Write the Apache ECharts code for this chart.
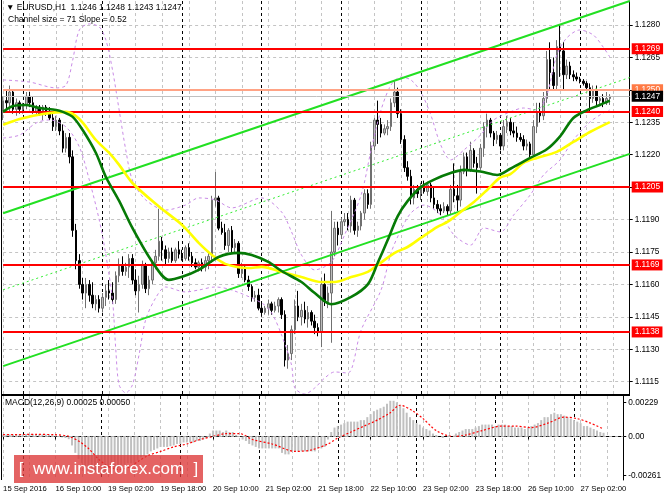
<!DOCTYPE html>
<html><head><meta charset="utf-8">
<script src="https://cdn.jsdelivr.net/npm/echarts@6/dist/echarts.min.js"></script>
<style>html,body{margin:0;padding:0;background:#fff}#c{width:664px;height:498px}</style>
</head><body><div id="c"></div>
<script>
// ---- time categories (hourly bars, weekend skipped) ----
const daySpans = [['15 Sep',18,23],['16 Sep',0,23],['19 Sep',0,23],['20 Sep',0,23],['21 Sep',0,23],['22 Sep',0,23],['23 Sep',0,23],['26 Sep',0,23],['27 Sep',0,15]];
const firstLabel = '15 Sep 2016';
const categories = [];
daySpans.forEach(function(d){ for (let h=d[1]; h<=d[2]; h++) categories.push(d[0]+' '+(h<10?'0':'')+h+':00'); });

// ---- candles ----
const opens = [1.1240,1.1245,1.1244,1.1249,1.1241,1.1244,1.1241,1.1243,1.1247,1.1244,
1.1240,1.1242,1.1239,1.1242,1.1239,1.1237,1.1233,1.1236,1.1231,1.1223,
1.1228,1.1219,1.1185,1.1171,1.1160,1.1156,1.1160,1.1155,1.1151,1.1153,
1.1149,1.1154,1.1157,1.1156,1.1153,1.1164,1.1169,1.1166,1.1168,1.1172,
1.1162,1.1157,1.1160,1.1169,1.1158,1.1162,1.1170,1.1173,1.1180,1.1176,
1.1172,1.1175,1.1171,1.1176,1.1174,1.1172,1.1177,1.1173,1.1170,1.1168,
1.1170,1.1168,1.1171,1.1173,1.1199,1.1200,1.1186,1.1184,1.1178,1.1185,
1.1177,1.1179,1.1165,1.1168,1.1162,1.1159,1.1154,1.1155,1.1149,1.1147,
1.1149,1.1151,1.1148,1.1150,1.1153,1.1146,1.1125,1.1128,1.1139,1.1150,
1.1145,1.1148,1.1144,1.1147,1.1143,1.1140,1.1138,1.1160,1.1152,1.1156,
1.1175,1.1186,1.1183,1.1189,1.1190,1.1187,1.1199,1.1185,1.1187,1.1193,
1.1202,1.1197,1.1224,1.1236,1.1234,1.1230,1.1232,1.1233,1.1244,1.1249,
1.1239,1.1227,1.1214,1.1210,1.1200,1.1204,1.1202,1.1205,1.1203,1.1206,
1.1200,1.1197,1.1195,1.1194,1.1196,1.1194,1.1204,1.1201,1.1199,1.1212,
1.1219,1.1213,1.1222,1.1216,1.1214,1.1223,1.1233,1.1236,1.1230,1.1227,
1.1229,1.1224,1.1233,1.1235,1.1231,1.1230,1.1228,1.1227,1.1224,1.1225,
1.1220,1.1233,1.1240,1.1238,1.1246,1.1264,1.1258,1.1252,1.1270,1.1268,
1.1257,1.1261,1.1257,1.1256,1.1255,1.1254,1.1253,1.1251,1.1246,1.1250,
1.1245,1.1246,1.1244,1.1246];
const highs = [1.1247,1.1250,1.1252,1.1250,1.1246,1.1245,1.1244,1.1249,1.1249,1.1247,
1.1243,1.1243,1.1243,1.1243,1.1242,1.1239,1.1238,1.1237,1.1234,1.1230,
1.1230,1.1222,1.1188,1.1174,1.1163,1.1163,1.1162,1.1161,1.1155,1.1155,
1.1156,1.1160,1.1162,1.1161,1.1166,1.1172,1.1173,1.1170,1.1174,1.1174,
1.1167,1.1164,1.1171,1.1170,1.1164,1.1171,1.1176,1.1195,1.1182,1.1178,
1.1177,1.1177,1.1177,1.1180,1.1176,1.1178,1.1179,1.1175,1.1172,1.1171,
1.1172,1.1173,1.1175,1.1201,1.1212,1.1201,1.1189,1.1188,1.1186,1.1187,
1.1181,1.1180,1.1170,1.1169,1.1164,1.1160,1.1157,1.1158,1.1151,1.1150,
1.1153,1.1152,1.1152,1.1154,1.1154,1.1148,1.1132,1.1141,1.1153,1.1157,
1.1151,1.1152,1.1150,1.1148,1.1146,1.1142,1.1163,1.1165,1.1159,1.1194,
1.1189,1.1189,1.1191,1.1193,1.1193,1.1201,1.1200,1.1189,1.1194,1.1204,
1.1204,1.1226,1.1237,1.1245,1.1237,1.1234,1.1236,1.1246,1.1254,1.1251,
1.1241,1.1229,1.1217,1.1213,1.1206,1.1206,1.1207,1.1208,1.1207,1.1207,
1.1205,1.1199,1.1197,1.1198,1.1197,1.1206,1.1216,1.1206,1.1215,1.1221,
1.1221,1.1226,1.1223,1.1219,1.1225,1.1235,1.1239,1.1237,1.1231,1.1231,
1.1230,1.1236,1.1238,1.1237,1.1235,1.1233,1.1230,1.1229,1.1227,1.1226,
1.1236,1.1244,1.1244,1.1249,1.1268,1.1272,1.1265,1.1273,1.1280,1.1272,
1.1264,1.1263,1.1259,1.1258,1.1256,1.1255,1.1254,1.1253,1.1252,1.1252,
1.1247,1.1248,1.1249,1.1248];
const lows = [1.1236,1.1241,1.1240,1.1239,1.1238,1.1239,1.1239,1.1241,1.1242,1.1239,
1.1238,1.1238,1.1236,1.1238,1.1236,1.1231,1.1231,1.1229,1.1221,1.1221,
1.1216,1.1182,1.1167,1.1158,1.1153,1.1149,1.1152,1.1149,1.1148,1.1147,
1.1147,1.1150,1.1153,1.1151,1.1151,1.1161,1.1164,1.1164,1.1163,1.1160,
1.1155,1.1147,1.1158,1.1156,1.1155,1.1160,1.1167,1.1171,1.1171,1.1169,
1.1170,1.1170,1.1170,1.1172,1.1171,1.1171,1.1171,1.1168,1.1167,1.1166,
1.1166,1.1166,1.1167,1.1170,1.1196,1.1185,1.1183,1.1176,1.1175,1.1175,
1.1175,1.1163,1.1163,1.1161,1.1157,1.1152,1.1152,1.1148,1.1145,1.1146,
1.1146,1.1146,1.1147,1.1147,1.1144,1.1122,1.1121,1.1125,1.1137,1.1143,
1.1141,1.1142,1.1140,1.1141,1.1137,1.1136,1.1131,1.1150,1.1149,1.1133,
1.1173,1.1178,1.1181,1.1187,1.1185,1.1184,1.1183,1.1182,1.1185,1.1190,
1.1195,1.1195,1.1222,1.1225,1.1228,1.1229,1.1229,1.1231,1.1242,1.1237,
1.1225,1.1212,1.1208,1.1197,1.1197,1.1200,1.1199,1.1202,1.1201,1.1198,
1.1195,1.1193,1.1192,1.1193,1.1192,1.1192,1.1198,1.1194,1.1196,1.1211,
1.1210,1.1212,1.1214,1.1202,1.1213,1.1219,1.1228,1.1228,1.1224,1.1225,
1.1222,1.1222,1.1230,1.1229,1.1228,1.1226,1.1226,1.1222,1.1222,1.1218,
1.1219,1.1230,1.1235,1.1236,1.1244,1.1250,1.1250,1.1250,1.1256,1.1250,
1.1255,1.1255,1.1254,1.1254,1.1253,1.1252,1.1250,1.1240,1.1244,1.1243,
1.1243,1.1242,1.1243,1.1243];
const closes = [1.1245,1.1244,1.1249,1.1241,1.1244,1.1241,1.1243,1.1247,1.1244,1.1240,
1.1242,1.1239,1.1242,1.1239,1.1237,1.1233,1.1236,1.1231,1.1223,1.1228,
1.1219,1.1185,1.1171,1.1160,1.1156,1.1160,1.1155,1.1151,1.1153,1.1149,
1.1154,1.1157,1.1156,1.1153,1.1164,1.1169,1.1166,1.1168,1.1172,1.1162,
1.1157,1.1160,1.1169,1.1158,1.1162,1.1170,1.1173,1.1180,1.1176,1.1172,
1.1175,1.1171,1.1176,1.1174,1.1172,1.1177,1.1173,1.1170,1.1168,1.1170,
1.1168,1.1171,1.1173,1.1199,1.1200,1.1186,1.1184,1.1178,1.1185,1.1177,
1.1179,1.1165,1.1168,1.1162,1.1159,1.1154,1.1155,1.1149,1.1147,1.1149,
1.1151,1.1148,1.1150,1.1153,1.1146,1.1125,1.1128,1.1139,1.1150,1.1145,
1.1148,1.1144,1.1147,1.1143,1.1140,1.1138,1.1160,1.1152,1.1156,1.1175,
1.1186,1.1183,1.1189,1.1190,1.1187,1.1199,1.1185,1.1187,1.1193,1.1202,
1.1197,1.1224,1.1236,1.1234,1.1230,1.1232,1.1233,1.1244,1.1249,1.1239,
1.1227,1.1214,1.1210,1.1200,1.1204,1.1202,1.1205,1.1203,1.1206,1.1200,
1.1197,1.1195,1.1194,1.1196,1.1194,1.1204,1.1201,1.1199,1.1212,1.1219,
1.1213,1.1222,1.1216,1.1214,1.1223,1.1233,1.1236,1.1230,1.1227,1.1229,
1.1224,1.1233,1.1235,1.1231,1.1230,1.1228,1.1227,1.1224,1.1225,1.1220,
1.1233,1.1240,1.1238,1.1246,1.1264,1.1258,1.1252,1.1270,1.1268,1.1257,
1.1261,1.1257,1.1256,1.1255,1.1254,1.1253,1.1251,1.1246,1.1250,1.1245,
1.1246,1.1244,1.1246,1.1247];

// ---- moving averages ----
const greenIdx = [0,3,7,11,16,18,21,24,28,31,35,39,45,50,54,59,65,71,75,80,84,90,94,99,105,110,113,116,119,122,126,130,135,139,144,149,153,159,164,168,172,176,180,183];
const greenVal = [1.12398,1.12425,1.12430,1.12416,1.12407,1.12398,1.12375,1.12314,1.12208,1.12097,1.11986,1.11861,1.11704,1.11621,1.11635,1.11667,1.11727,1.11746,1.11736,1.11704,1.11662,1.11611,1.11560,1.11508,1.11542,1.11600,1.11700,1.11805,1.11915,1.11985,1.12050,1.12085,1.12115,1.12130,1.12122,1.12106,1.12135,1.12185,1.12225,1.12285,1.12370,1.12405,1.12430,1.12450];
const yellowIdx = [0,5,12,19,23,28,32,35,39,47,54,59,63,67,74,78,84,90,96,100,105,110,113,118,122,126,131,134,138,142,146,150,153,157,161,167,172,177,183];
const yellowVal = [1.12338,1.12365,1.12388,1.12398,1.12365,1.12268,1.12208,1.12153,1.12069,1.11960,1.11875,1.11792,1.11736,1.11695,1.11676,1.11681,1.11658,1.11634,1.11611,1.11611,1.11634,1.11658,1.11690,1.11745,1.11773,1.11815,1.11866,1.11889,1.11935,1.11981,1.12037,1.12095,1.12110,1.12162,1.12185,1.12213,1.12259,1.12305,1.12351];
// ---- envelope bands (purple dashed) ----
const bandUpIdx = [0,8,16,19,21,23,26,29,31,33,35,37,39,43,49,55,59,64,69,78,84,87,90,94,99,103,108,111,114,117,120,123,126,129,132,135,139,144,148,153,157,161,164,167,170,174,178,181,183];
const bandUpVal = [1.12546,1.12536,1.12509,1.12522,1.12638,1.12777,1.12805,1.12791,1.12731,1.12592,1.12407,1.12222,1.12083,1.11991,1.11944,1.11967,1.12000,1.11991,1.11954,1.12000,1.11935,1.11843,1.11736,1.11667,1.11704,1.11829,1.12014,1.12222,1.12407,1.12522,1.12559,1.12546,1.12490,1.12384,1.12245,1.12176,1.12222,1.12291,1.12361,1.12398,1.12416,1.12407,1.12476,1.12661,1.12740,1.12777,1.12754,1.12698,1.12652];
const bandLoIdx = [0,5,10,14,19,23,26,29,31,33,34,35,37,39,41,43,46,49,55,59,64,69,78,81,84,87,88,91,94,97,100,104,108,114,117,120,123,127,132,136,141,145,150,154,159,163,168,172,177,181,183];
const bandLoVal = [1.12277,1.12291,1.12347,1.12361,1.12328,1.12236,1.12083,1.11898,1.11736,1.11528,1.11297,1.11135,1.11098,1.11135,1.11274,1.11436,1.11537,1.11588,1.11565,1.11574,1.11588,1.11574,1.11514,1.11468,1.11366,1.11227,1.11121,1.11093,1.11121,1.11167,1.11195,1.11190,1.11389,1.11574,1.11745,1.11852,1.11930,1.11967,1.11921,1.11829,1.11782,1.11861,1.11843,1.11921,1.12014,1.12106,1.12176,1.12268,1.12351,1.12393,1.12407];

// ---- regression channel (end points) ----
const channelIdx = [0, 189];
const channelUpper = [1.11929, 1.12911];
const channelMiddle = [1.11575, 1.12557];
const channelLower = [1.11222, 1.12204];

// ---- horizontal levels ----
const redLevels = [1.1269, 1.1240, 1.1205, 1.1169, 1.1138];
const salmonLevel = 1.1250;
const bidLevel = 1.1247;

// ---- price axis ticks ----
const priceTicks = [1.1115,1.1130,1.1145,1.1160,1.1175,1.1190,1.1205,1.1220,1.1235,1.1250,1.1265,1.1280];
const priceMin = 1.11093, priceMax = 1.12911;

// ---- MACD ----
const macdMain = [0.00012,0.00013,0.00014,0.00014,0.00015,0.00014,0.00014,0.00016,0.00017,0.00016,
0.00015,0.00014,0.00014,0.00013,0.00012,0.00008,0.00006,0.00002,-0.00006,-0.0001,
-0.00018,-0.0006,-0.0011,-0.0015,-0.0018,-0.002,-0.0022,-0.0023,-0.0024,-0.0025,
-0.0025,-0.0025,-0.0024,-0.0024,-0.0022,-0.0021,-0.002,-0.0019,-0.0018,-0.0018,
-0.0018,-0.0016,-0.0014,-0.0013,-0.0012,-0.001,-0.0009,-0.0008,-0.0007,-0.0007,
-0.0007,-0.00065,-0.0006,-0.0005,-0.0005,-0.0004,-0.0004,-0.0004,-0.0004,-0.0003,
-0.0003,-0.0002,-0.0001,0.0002,0.0004,0.0004,0.0004,0.0003,0.0004,0.0003,
0.0003,0.0001,0.0,-0.0002,-0.0003,-0.0005,-0.0006,-0.0007,-0.0008,-0.0008,
-0.0008,-0.0008,-0.0008,-0.0008,-0.0008,-0.0011,-0.0012,-0.0012,-0.001,-0.001,
-0.001,-0.001,-0.001,-0.001,-0.001,-0.001,-0.0008,-0.0008,-0.0007,-0.0002,
0.0003,0.0006,0.0007,0.0008,0.0009,0.001,0.001,0.001,0.001,0.0011,
0.0011,0.0013,0.0015,0.0017,0.0018,0.0019,0.002,0.0022,0.0024,0.0024,
0.0023,0.0021,0.0019,0.0016,0.0013,0.0011,0.0009,0.0008,0.0006,0.0005,
0.0004,0.0002,0.0001,0.0,-0.0001,0.0,0.0001,0.0,0.0002,0.0003,
0.0004,0.0005,0.0005,0.0005,0.0006,0.0007,0.0008,0.0008,0.0008,0.0008,
0.0007,0.0008,0.0008,0.0008,0.0007,0.0007,0.0006,0.0006,0.0006,0.0005,
0.0006,0.0007,0.0008,0.0009,0.0011,0.0013,0.0013,0.0015,0.0016,0.0015,
0.0015,0.0014,0.0013,0.0012,0.0011,0.001,0.0009,0.0007,0.0007,0.0006,
0.0005,0.0004,0.0003,0.00025];
const signalIdx = [0,10,16,20,23,26,29,32,35,38,41,44,48,52,56,60,64,68,72,76,82,89,94,99,102,106,110,114,118,121,125,128,132,137,141,146,152,156,161,166,171,175,179,183];
const signalVal = [0.00012,0.00014,0.00012,0.00002,-0.0003,-0.0008,-0.0015,-0.002,-0.0022,-0.0021,-0.0017,-0.0013,-0.001,-0.0007,-0.0005,-0.0002,0.0,0.0002,0.0002,-0.0002,-0.0005,-0.001,-0.0009,-0.0005,-0.0001,0.0003,0.0007,0.0011,0.0016,0.0021,0.0017,0.0012,0.0004,0.0,0.0001,0.0004,0.0007,0.0007,0.0006,0.0009,0.0013,0.0012,0.0009,0.0005];
const macdTicks = [-0.00261, 0, 0.00229];
const macdMin = -0.00292, macdMax = 0.00272;

// ---- build ----
const FONT = "'Liberation Sans', Arial, sans-serif";
const candleData = opens.map(function(o,i){ return [o, closes[i], lows[i], highs[i]]; });
function pairs(ix, vs){ return ix.map(function(x,k){ return [x, vs[k]]; }); }
const lblInt = function(i){ return i % 16 === 0 && i <= 176; };
const gridInt = function(i){ return i % 8 === 0; };
const sepInt = function(i){ return i >= 6 && (i - 6) % 24 === 0; };
const gridLine = {show:true, interval:gridInt, lineStyle:{color:'#c4c4c4', type:[3,3], width:1}};
const sepLine = {show:true, interval:sepInt, lineStyle:{color:'#000', type:[3,3], width:1}};

function lvl(v, lineColor, boxColor, lw){
  return {yAxis: v, lineStyle:{color: lineColor, width: lw, type:'solid'},
    label:{show:true, position:'end', distance:2, formatter: v.toFixed(4), color:'#fff',
      backgroundColor: boxColor, padding:[2,3,1,3], fontSize:8.3, fontFamily:FONT}};
}
const levelData = redLevels.map(function(v){ return lvl(v, '#ff0000', '#ff0000', 2); });
levelData.push(lvl(salmonLevel, '#ffa385', '#ff7a45', 2));
levelData.push(lvl(bidLevel, '#c0c0c0', '#000000', 1));

function lineSeries(data, color, width, type, z, smooth){
  return {type:'line', xAxisIndex:0, yAxisIndex:0, data:data, showSymbol:false, symbol:'none',
    smooth: smooth, lineStyle:{color:color, width:width, type:type}, z:z, silent:true, animation:false};
}

const chart = echarts.init(document.getElementById('c'), null, {renderer:'canvas'});
chart.setOption({
  animation:false,
  backgroundColor:'#ffffff',
  grid:[
    {left:3.1, right:34.3, top:1, height:393},
    {left:3.1, right:34.3, top:396, height:84}
  ],
  xAxis:[
    {type:'category', gridIndex:0, data:categories, boundaryGap:false, axisLine:{show:false}, axisTick:{show:false}, axisLabel:{show:false}, splitLine:gridLine},
    {type:'category', gridIndex:1, data:categories, boundaryGap:false,
      axisLine:{show:true, lineStyle:{color:'#000'}},
      axisTick:{show:true, interval:lblInt, length:3, lineStyle:{color:'#000'}},
      axisLabel:{interval:lblInt, align:'left', margin:5, fontSize:7.7, color:'#000', fontFamily:FONT,
        formatter:function(v, i){ return i === 0 ? firstLabel : v; }},
      splitLine:gridLine},
    {type:'category', gridIndex:0, position:'top', data:categories, boundaryGap:false, axisLine:{show:false}, axisTick:{show:false}, axisLabel:{show:false}, splitLine:sepLine},
    {type:'category', gridIndex:1, position:'top', data:categories, boundaryGap:false, axisLine:{show:false}, axisTick:{show:false}, axisLabel:{show:false}, splitLine:sepLine}
  ],
  yAxis:[
    {type:'value', gridIndex:0, position:'right', min:priceMin, max:priceMax,
      axisLine:{show:true, lineStyle:{color:'#000'}},
      axisTick:{show:true, customValues:priceTicks, length:3, lineStyle:{color:'#000'}},
      axisLabel:{customValues:priceTicks, formatter:function(v){ return v.toFixed(4); }, margin:5, fontSize:8.3, color:'#000', fontFamily:FONT},
      splitLine:{show:true, lineStyle:{color:'#c4c4c4', type:[3,3], width:1}}},
    {type:'value', gridIndex:1, position:'right', min:macdMin, max:macdMax,
      axisLine:{show:true, lineStyle:{color:'#000'}},
      axisTick:{show:true, customValues:macdTicks, length:3, lineStyle:{color:'#000'}},
      axisLabel:{customValues:macdTicks, formatter:function(v){ return v === 0 ? '0.00' : v.toFixed(5); }, margin:5, fontSize:8.3, color:'#000', fontFamily:FONT},
      splitLine:{show:false}}
  ],
  series:[
    {type:'candlestick', xAxisIndex:0, yAxisIndex:0, data:candleData, barWidth:2, clip:false, z:2, silent:true,
      itemStyle:{color:'#bdbdbd', color0:'#000000', borderColor:'#707070', borderColor0:'#000000', borderWidth:1},
      markLine:{symbol:['none','none'], silent:true, animation:false, precision:4, data:levelData}},
    lineSeries(pairs(bandUpIdx, bandUpVal), '#c98be6', 1, [3,3], 3, 0.3),
    lineSeries(pairs(bandLoIdx, bandLoVal), '#c98be6', 1, [3,3], 3, 0.3),
    lineSeries(pairs(channelIdx, channelUpper), '#22e022', 2, 'solid', 4, false),
    lineSeries(pairs(channelIdx, channelLower), '#22e022', 2, 'solid', 4, false),
    lineSeries(pairs(channelIdx, channelMiddle), '#33ee33', 1, [2,3], 4, false),
    lineSeries(pairs(yellowIdx, yellowVal), '#ffff00', 2.6, 'solid', 5, 0.3),
    lineSeries(pairs(greenIdx, greenVal), '#067a06', 2.6, 'solid', 6, 0.3),
    {type:'bar', xAxisIndex:1, yAxisIndex:1, data:macdMain, barWidth:2, itemStyle:{color:'#c0c0c0'}, silent:true, z:2,
      markLine:{symbol:['none','none'], silent:true, animation:false, label:{show:false}, lineStyle:{color:'#b0b0b0', type:[3,3], width:1}, data:[{yAxis:0}]}},
    {type:'line', xAxisIndex:1, yAxisIndex:1, data:pairs(signalIdx, signalVal), showSymbol:false, symbol:'none', smooth:0.3,
      lineStyle:{color:'#ff0000', width:1.2, type:[2,2]}, z:3, silent:true}
  ],
  graphic:[
    {type:'line', shape:{x1:1.5, y1:0, x2:1.5, y2:480}, style:{stroke:'#000', lineWidth:1}, z:50},
    {type:'rect', shape:{x:1, y:394, width:629, height:2}, style:{fill:'#000'}, z:50},
    {type:'text', x:6, y:8, z:60, style:{text:'\u25BC EURUSD,H1  1.1246 1.1248 1.1243 1.1247', fill:'#000', fontSize:8.5, fontFamily:FONT, verticalAlign:'middle', align:'left'}},
    {type:'text', x:8, y:19.5, z:60, style:{text:'Channel size = 71 Slope = 0.52', fill:'#000', fontSize:8.5, fontFamily:FONT, verticalAlign:'middle', align:'left'}},
    {type:'text', x:5, y:403, z:60, style:{text:'MACD(12,26,9) 0.00025 0.00050', fill:'#000', fontSize:8.5, fontFamily:FONT, verticalAlign:'middle', align:'left'}},
    {type:'rect', shape:{x:14, y:455, width:189, height:28}, style:{fill:'rgba(220,55,55,0.78)'}, z:80},
    {type:'text', x:108.5, y:469, z:81, style:{text:'[  www.instaforex.com  ]', fill:'#ffffff', fontSize:17, fontFamily:FONT, verticalAlign:'middle', align:'center'}}
  ]
});
</script>
</body></html>
